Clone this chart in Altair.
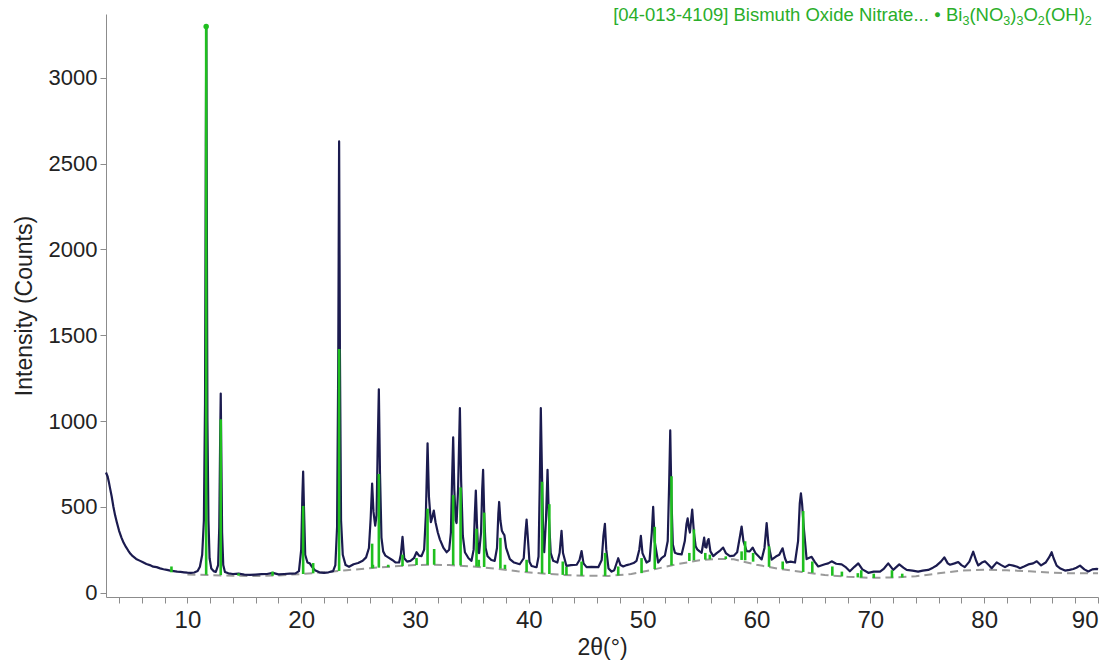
import altair as alt
import pandas as pd

# Observed powder pattern: (2θ in degrees, intensity in counts)
observed = [
    (2.85, 700), (3.0, 675), (3.1, 645), (3.2, 610), (3.35, 560), (3.5, 500), (3.65, 450),
    (3.8, 410), (4.0, 360), (4.2, 322), (4.4, 290), (4.6, 266), (4.8, 245), (5.0, 226),
    (5.2, 212), (5.5, 196), (5.8, 186), (6.1, 176), (6.4, 166), (6.7, 160), (7.0, 151),
    (7.3, 148), (7.6, 141), (7.9, 136), (8.2, 132), (8.5, 128), (8.8, 125), (9.1, 122),
    (9.4, 120), (9.7, 118), (10.0, 116), (10.3, 115), (10.6, 117), (10.9, 125), (11.1, 150),
    (11.3, 220), (11.45, 420), (11.55, 1100), (11.62, 2600), (11.66, 3300), (11.70, 2400),
    (11.76, 1000), (11.85, 420), (11.95, 200), (12.1, 140), (12.3, 125), (12.5, 120),
    (12.7, 160), (12.8, 380), (12.88, 900), (12.93, 1160), (12.98, 820), (13.05, 350),
    (13.15, 160), (13.3, 120), (13.6, 112), (14.0, 108), (14.5, 110), (15.0, 104),
    (15.5, 103), (16.0, 105), (16.5, 107), (17.0, 108), (17.5, 115), (18.0, 106),
    (18.5, 108), (19.0, 110), (19.5, 112), (19.8, 125), (20.0, 250), (20.1, 560),
    (20.17, 705), (20.24, 500), (20.35, 220), (20.55, 175), (20.75, 170), (20.95, 150),
    (21.2, 130), (21.6, 118), (22.0, 115), (22.4, 118), (22.8, 125), (23.0, 160),
    (23.15, 380), (23.25, 1300), (23.33, 2630), (23.40, 1400), (23.5, 420), (23.65, 220),
    (23.9, 160), (24.2, 150), (24.6, 165), (25.0, 172), (25.4, 185), (25.7, 205),
    (25.95, 260), (26.1, 430), (26.23, 635), (26.35, 470), (26.5, 390), (26.62, 450),
    (26.72, 850), (26.82, 1185), (26.92, 700), (27.05, 320), (27.2, 240), (27.4, 215),
    (27.64, 205), (28.0, 190), (28.3, 175), (28.6, 175), (28.75, 220), (28.9, 325),
    (29.05, 200), (29.3, 180), (29.6, 185), (29.9, 200), (30.13, 235), (30.35, 215),
    (30.57, 212), (30.8, 250), (30.95, 450), (31.1, 870), (31.22, 560), (31.39, 410),
    (31.52, 440), (31.65, 478), (31.8, 410), (32.0, 350), (32.18, 310), (32.5, 260),
    (32.77, 235), (33.0, 250), (33.15, 350), (33.25, 650), (33.35, 905), (33.45, 600),
    (33.57, 420), (33.65, 405), (33.78, 600), (33.94, 1075), (34.05, 650), (34.2, 330),
    (34.38, 235), (34.7, 200), (34.96, 185), (35.15, 250), (35.25, 450), (35.34, 595),
    (35.44, 400), (35.55, 235), (35.63, 230), (35.8, 350), (35.9, 600), (35.98, 715),
    (36.08, 450), (36.2, 260), (36.37, 212), (36.7, 190), (37.0, 185), (37.2, 260),
    (37.32, 460), (37.39, 528), (37.5, 420), (37.63, 360), (37.75, 345), (37.85, 335),
    (38.0, 260), (38.33, 195), (38.7, 175), (39.2, 165), (39.55, 200), (39.7, 350),
    (39.8, 425), (39.9, 330), (40.05, 180), (40.24, 155), (40.5, 150), (40.68, 148),
    (40.85, 210), (40.95, 600), (41.05, 1075), (41.15, 700), (41.27, 300), (41.35, 235),
    (41.5, 420), (41.64, 715), (41.75, 450), (41.92, 230), (42.14, 185), (42.5, 175),
    (42.7, 230), (42.87, 360), (43.0, 230), (43.3, 155), (43.7, 160), (44.2, 162),
    (44.45, 190), (44.63, 242), (44.8, 170), (45.07, 148), (45.5, 150), (46.1, 148),
    (46.4, 190), (46.55, 330), (46.68, 400), (46.8, 250), (47.0, 140), (47.27, 122),
    (47.5, 130), (47.85, 200), (48.05, 160), (48.29, 152), (48.6, 160), (48.88, 165),
    (49.2, 172), (49.46, 185), (49.7, 250), (49.84, 330), (49.98, 230), (50.34, 175),
    (50.6, 185), (50.8, 350), (50.92, 500), (51.05, 300), (51.36, 175), (51.65, 200),
    (51.95, 215), (52.2, 300), (52.33, 650), (52.42, 945), (52.52, 560), (52.65, 280),
    (52.83, 232), (53.1, 225), (53.42, 222), (53.7, 300), (53.85, 400), (53.95, 432),
    (54.05, 380), (54.15, 350), (54.25, 420), (54.35, 483), (54.5, 350), (54.65, 270),
    (54.79, 252), (55.0, 240), (55.18, 232), (55.3, 280), (55.4, 320), (55.5, 265),
    (55.6, 262), (55.7, 300), (55.79, 312), (55.95, 240), (56.2, 212), (56.5, 230),
    (56.8, 245), (57.07, 262), (57.3, 230), (57.66, 212), (58.0, 215), (58.3, 235),
    (58.55, 330), (58.69, 385), (58.85, 300), (59.13, 242), (59.4, 240), (59.66, 262),
    (59.9, 230), (60.2, 210), (60.45, 193), (60.7, 260), (60.89, 405), (61.05, 280),
    (61.33, 192), (61.7, 210), (62.0, 220), (62.29, 258), (62.5, 200), (62.65, 175),
    (63.0, 180), (63.38, 175), (63.65, 300), (63.8, 520), (63.9, 578), (64.0, 520),
    (64.15, 380), (64.4, 195), (64.84, 208), (65.1, 180), (65.42, 152), (66.0, 165),
    (66.3, 170), (66.6, 182), (67.0, 168), (67.48, 164), (67.8, 150), (68.2, 124),
    (68.6, 150), (68.94, 170), (69.3, 135), (69.82, 115), (70.3, 122), (70.85, 122),
    (71.2, 140), (71.57, 170), (72.01, 132), (72.54, 164), (72.9, 145), (73.19, 132),
    (73.7, 128), (74.2, 122), (74.6, 128), (75.09, 132), (75.5, 145), (75.83, 158),
    (76.2, 180), (76.5, 205), (76.8, 170), (77.0, 162), (77.4, 170), (77.72, 178),
    (78.0, 160), (78.3, 148), (78.7, 180), (79.04, 238), (79.3, 185), (79.48, 158),
    (79.8, 175), (80.07, 182), (80.4, 160), (80.66, 142), (81.1, 176), (81.5, 160),
    (81.83, 148), (82.2, 162), (82.56, 157), (82.9, 150), (83.15, 142), (83.5, 152),
    (83.88, 164), (84.3, 170), (84.62, 182), (85.0, 158), (85.4, 175), (85.7, 205),
    (85.93, 235), (86.1, 200), (86.37, 157), (86.7, 140), (87.1, 128), (87.5, 132),
    (87.83, 137), (88.1, 145), (88.42, 157), (88.8, 135), (89.15, 123), (89.5, 135),
    (89.9, 138), (90.0, 135),
]

# Fitted background (dashed)
bg_theta = [10, 12, 14, 16, 18, 20, 22, 24, 26, 28, 30, 31.5, 33, 35, 37, 39, 41, 43, 45,
            47, 49, 51, 53, 55, 56.5, 58, 60, 62, 64, 66, 68, 70, 72, 74, 76, 78, 80, 82,
            84, 86, 88, 90]
bg_counts = [105, 102, 98, 96, 100, 108, 118, 130, 142, 152, 160, 162, 160, 152, 140, 124,
             112, 103, 98, 97, 108, 135, 165, 188, 196, 194, 162, 138, 120, 102, 92, 86, 88,
             95, 112, 128, 133, 130, 124, 115, 112, 112]

# Reference pattern 04-013-4109: stick positions, base (background) and top
stick_pos = [8.6, 11.65, 12.93, 14.5, 17.48, 20.17, 21.05, 23.33, 26.23, 26.3, 26.82,
             27.64, 28.9, 30.13, 31.1, 31.68, 33.35, 34.0, 35.4, 35.6, 36.07, 37.5, 37.9,
             39.8, 41.16, 41.8, 42.98, 43.3, 44.63, 46.7, 47.85, 49.9, 51.06, 52.53, 54.1,
             54.5, 55.5, 55.9, 57.3, 58.69, 59.0, 59.7, 61.1, 62.3, 64.1, 64.9, 66.66,
             67.5, 68.9, 69.2, 70.3, 71.9, 72.8]
stick_base = [118, 103, 102, 98, 98, 108, 112, 126, 142, 142, 145, 148, 154, 160, 162, 162,
              160, 158, 152, 151, 149, 140, 137, 120, 111, 108, 103, 102, 98, 97, 99, 113,
              137, 158, 184, 188, 192, 194, 195, 190, 188, 180, 150, 136, 120, 115, 98, 94,
              88, 87, 85, 86, 88]
stick_top = [152, 3300, 1010, 112, 122, 505, 172, 1420, 285, 162, 691, 162, 221, 201, 489,
             254, 568, 613, 372, 191, 466, 319, 162, 191, 646, 515, 181, 150, 181, 231, 152,
             201, 383, 678, 231, 368, 231, 221, 211, 240, 299, 231, 270, 181, 475, 181, 152,
             122, 113, 130, 110, 130, 110]

# Phase label: (text, is_subscript) pieces
legend_pieces = [
    ("[04-013-4109] Bismuth Oxide Nitrate... ", False), ("\u25cf ", False),
    ("Bi", False), ("3", True), ("(NO", False), ("3", True), (")", False), ("3", True),
    ("O", False), ("2", True), ("(OH)", False), ("2", True),
]

GREEN = "#1fbf1f"
LABEL_GREEN = "#2aae2a"
NAVY = "#1b1b4f"
AXIS_GREY = "#8c8c8c"
FONT = "Liberation Sans"

obs_df = pd.DataFrame(observed, columns=["tt", "I"])
bg_df = pd.DataFrame({"tt": bg_theta, "I": bg_counts})
stick_df = pd.DataFrame({"tt": stick_pos, "base": stick_base, "top": stick_top})
dot_df = pd.DataFrame({"tt": [stick_pos[1]], "I": [stick_top[1]]})

x_scale = alt.Scale(domain=[2.85, 90], nice=False, zero=False)
y_scale = alt.Scale(domain=[-26, 3373], nice=False, zero=False)

x_axis = alt.Axis(
    values=list(range(4, 91, 2)),
    labelExpr="datum.value % 10 === 0 ? datum.label : ''",
    format="d",
    grid=False,
    domainColor=AXIS_GREY,
    tickColor=AXIS_GREY,
    tickSize=6,
    labelFont=FONT,
    labelFontSize=24,
    labelColor="#222222",
    labelPadding=5,
    titleFont=FONT,
    titleFontSize=23,
    titleFontWeight="normal",
    titleColor="#222222",
    titlePadding=4,
)
y_axis = alt.Axis(
    values=[0, 500, 1000, 1500, 2000, 2500, 3000],
    format="d",
    grid=False,
    domainColor=AXIS_GREY,
    tickColor=AXIS_GREY,
    tickSize=6,
    labelFont=FONT,
    labelFontSize=22,
    labelColor="#222222",
    labelPadding=3,
    titleFont=FONT,
    titleFontSize=23,
    titleFontWeight="normal",
    titleColor="#222222",
    titlePadding=12,
)

X = alt.X("tt:Q", scale=x_scale, axis=x_axis, title="2θ(°)")
Y_TITLE = "Intensity (Counts)"


def y_enc(field):
    return alt.Y(field, scale=y_scale, axis=y_axis, title=Y_TITLE)


background = alt.Chart(bg_df).mark_line(
    color="#9a9a9a", strokeWidth=2, strokeDash=[8, 5]
).encode(x=X, y=y_enc("I:Q"))

pattern = alt.Chart(obs_df).mark_line(
    color=NAVY, strokeWidth=2.2, strokeJoin="round"
).encode(x=X, y=y_enc("I:Q"))

sticks = alt.Chart(stick_df).mark_rule(
    color=GREEN, strokeWidth=2.6
).encode(x=X, y=y_enc("base:Q"), y2="top:Q")

top_dot = alt.Chart(dot_df).mark_point(
    filled=True, color=GREEN, size=30, opacity=1
).encode(x=X, y=y_enc("I:Q"))

# Phase label with true subscripts: advance widths from Arial/Liberation Sans metrics
ADV = {
    "[": 0.278, "]": 0.278, "-": 0.333, " ": 0.278, ".": 0.278, "(": 0.333, ")": 0.333,
    "B": 0.667, "i": 0.222, "s": 0.5, "m": 0.833, "u": 0.556, "t": 0.278, "h": 0.556,
    "O": 0.778, "x": 0.5, "d": 0.556, "e": 0.556, "N": 0.722, "r": 0.333, "a": 0.556,
    "H": 0.722, "\u25cf": 0.604,
}
MAIN_SIZE, SUB_SIZE = 18.5, 12.5
RIGHT_EDGE = 990
BASELINE = 7


def text_width(s, size):
    return sum(ADV.get(c, 0.556) for c in s) * size


total = sum(text_width(t, SUB_SIZE if sub else MAIN_SIZE) for t, sub in legend_pieces)
cursor = RIGHT_EDGE - total
label_layers = []
for t, sub in legend_pieces:
    size = SUB_SIZE if sub else MAIN_SIZE
    fs = size * 0.62 if t.startswith("\u25cf") else size
    label_layers.append(
        alt.Chart(pd.DataFrame({"t": [t]})).mark_text(
            align="left", baseline="alphabetic", color=LABEL_GREEN, fontSize=fs, font=FONT,
            dy=(-3 if t.startswith("\u25cf") else 0),
        ).encode(x=alt.value(cursor), y=alt.value(BASELINE + (4 if sub else 0)), text="t:N")
    )
    cursor += text_width(t, size) if not t.startswith("\u25cf") else fs * 0.604 + MAIN_SIZE * 0.278

chart = (
    alt.layer(background, pattern, sticks, top_dot, *label_layers)
    .properties(
        width=992,
        height=583,
        autosize=alt.AutoSizeParams(type="none"),
        padding={"left": 106, "top": 14, "right": 15, "bottom": 63},
        background="white",
    )
    .configure_view(strokeWidth=0)
)

chart.save("out.html", embed_options={"renderer": "svg", "actions": False})
